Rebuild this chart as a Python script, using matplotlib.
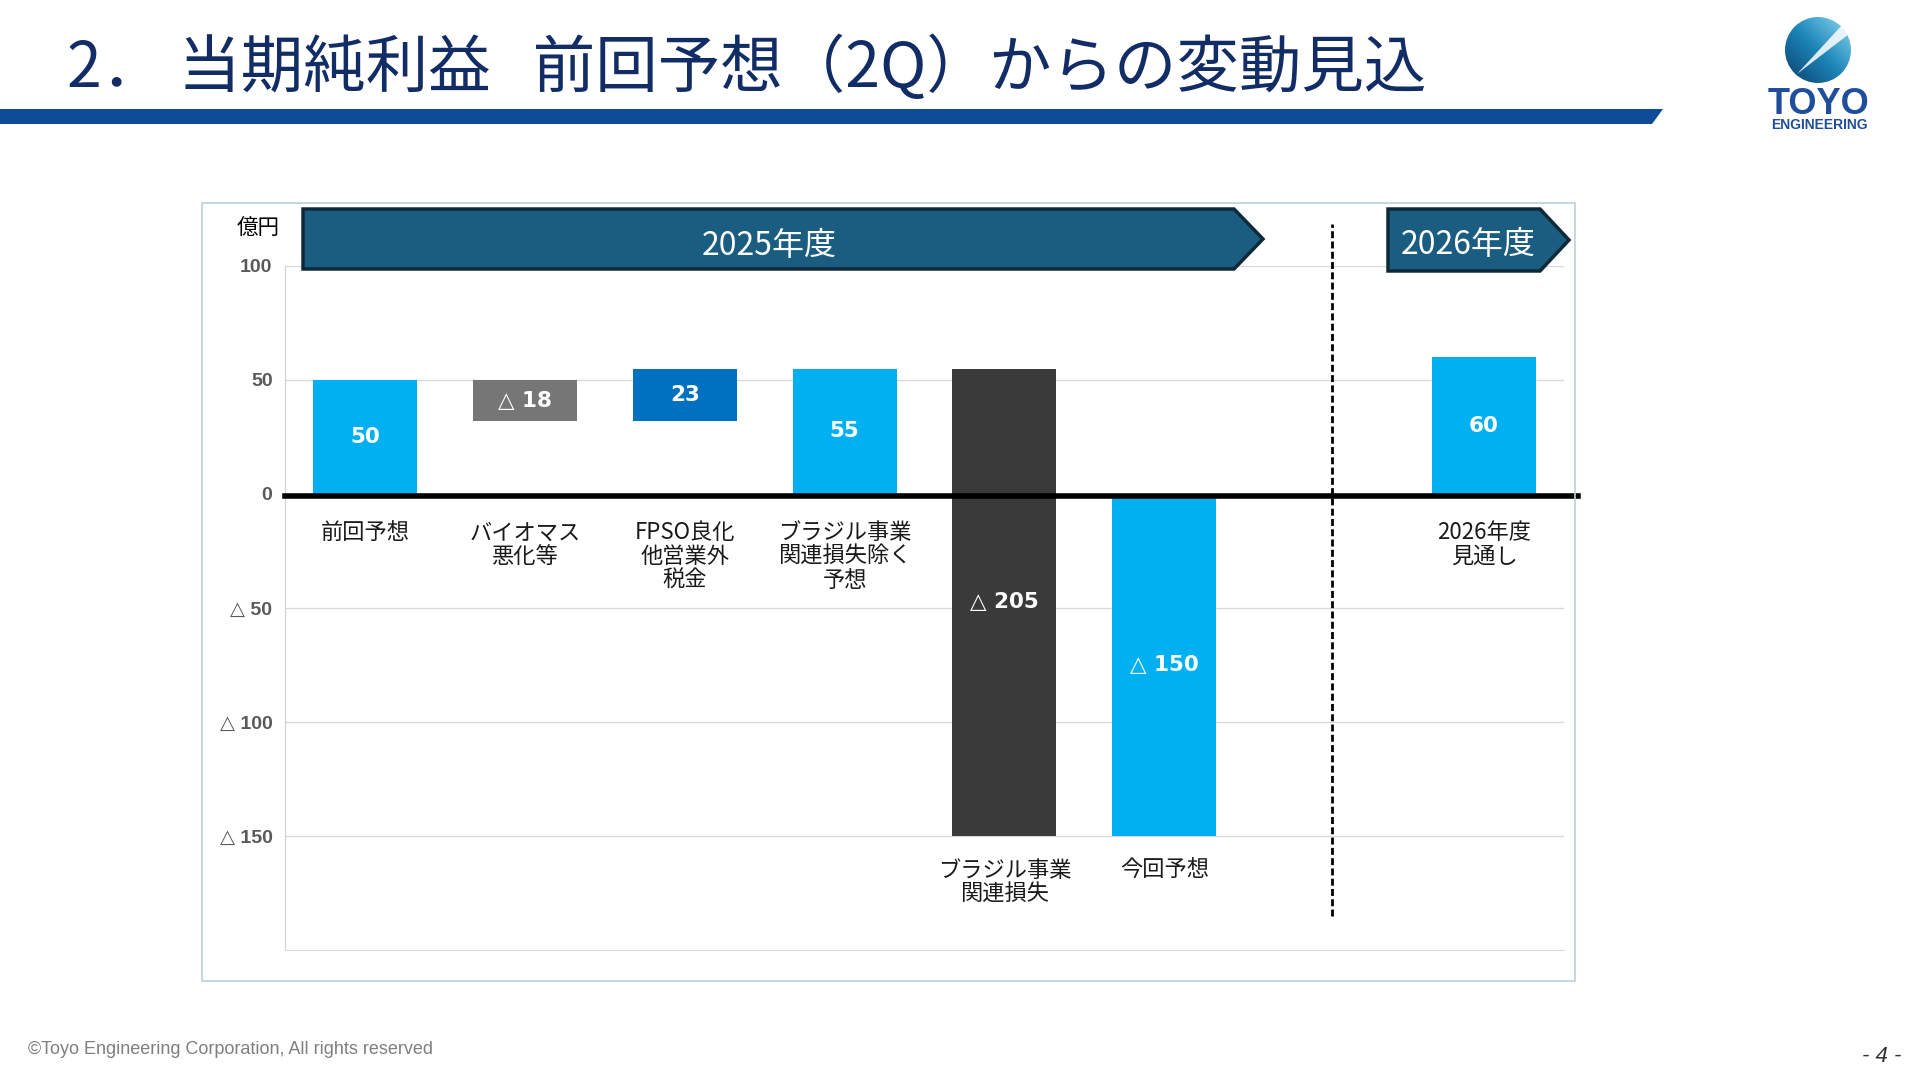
import numpy as np
import matplotlib
matplotlib.use('Agg')
import matplotlib.pyplot as plt
from matplotlib.patches import Polygon, Rectangle, Circle

plt.rcParams['font.family'] = ['Noto Sans CJK JP', 'DejaVu Sans']

# data
categories = ['前回予想', 'バイオマス\n悪化等', 'FPSO良化\n他営業外\n税金', 'ブラジル事業\n関連損失除く\n予想',
              'ブラジル事業\n関連損失', '今回予想', '2026年度\n見通し']
positions = [0, 1, 2, 3, 4, 5, 7]
values = [50, -18, 23, 55, -205, -150, 60]
kinds = ['total', 'delta', 'delta', 'total', 'delta', 'total', 'total']
bar_colors = ['#00B0F0', '#767676', '#0070C0', '#00B0F0', '#3A3A3A', '#00B0F0', '#00B0F0']
y_ticks = [100, 50, 0, -50, -100, -150]
y_tick_labels = ['100', '50', '0', '△ 50', '△ 100', '△ 150']

TITLE = '2． 当期純利益   前回予想（2Q）からの変動見込'
TITLE_COLOR = '#122C66'
TICK_COLOR = '#595959'

# waterfall bottoms
bottoms = []
running = 0
for v, k in zip(values, kinds):
    if k == 'total':
        bottoms.append(0)
        running = v
    else:
        bottoms.append(running)
        running += v

fig = plt.figure(figsize=(19.2, 10.8), dpi=100)
fig.patch.set_facecolor('white')

W, H = 1920, 1080
ax = fig.add_axes([285 / W, (H - 950) / H, 1279 / W, 684 / H])
ax.set_facecolor('none')

ax.bar(positions, values, bottom=bottoms, width=0.65, color=bar_colors, zorder=3)

for x, v, b in zip(positions, values, bottoms):
    label = f'△ {abs(v)}' if v < 0 else str(v)
    ax.text(x, b + v / 2, label, ha='center', va='center', color='white',
            fontsize=15.5, fontweight='bold', family=['DejaVu Sans'], zorder=5)

for x, v, b, cat in zip(positions, values, bottoms, categories):
    low = min(b, b + v)
    y = -12 if low >= 0 else low - 10
    ax.text(x, y, cat, ha='center', va='top', fontsize=16, color='#1A1A1A',
            linespacing=1.05, zorder=5)

ax.set_xlim(-0.5, 7.5)
ax.set_ylim(-200, 100)
ax.set_xticks([])
ax.set_yticks(y_ticks)
ax.set_yticklabels(y_tick_labels, fontsize=14, fontweight='bold', color=TICK_COLOR,
                   family=['Liberation Sans', 'DejaVu Sans'])
ax.tick_params(axis='y', length=0, pad=9)
ax.yaxis.grid(True, color='#D9D9D9', lw=1)
ax.set_axisbelow(True)
for s in ['top', 'right']:
    ax.spines[s].set_visible(False)
ax.spines['left'].set_color('#D0D0D0')
ax.spines['bottom'].set_color('#D9D9D9')

# zero line and fiscal year divider
ax.axhline(-1, xmin=0, xmax=1.011, color='black', lw=4, clip_on=False, zorder=4)
ax.axvline(6.05, ymin=0.05, ymax=1.061, color='black', lw=2, ls=(0, (2.5, 1.2)),
           clip_on=False, zorder=4)

# overlay in pixel coords for slide decorations
ov = fig.add_axes([0, 0, 1, 1], zorder=10)
ov.set_xlim(0, W)
ov.set_ylim(H, 0)
ov.axis('off')
ov.patch.set_alpha(0)

ov.add_patch(Rectangle((202, 203), 1373, 778, fill=False, edgecolor='#BCD0DC', lw=1.2))

ov.text(67, 68, TITLE, fontsize=45, color=TITLE_COLOR, ha='left', va='center')
ov.add_patch(Polygon([(0, 109), (1663, 109), (1652, 124), (0, 124)], closed=True,
                     facecolor='#0F4C97', edgecolor='none'))

# fiscal year banners
banner_fill = '#1A5D80'
banner_edge = '#0E2A3A'
ov.add_patch(Polygon([(303, 209), (1234, 209), (1263, 239), (1234, 269), (303, 269)],
                     closed=True, facecolor=banner_fill, edgecolor=banner_edge, lw=2.5))
ov.text(769, 246, '2025年度', fontsize=23, color='white', ha='center', va='center')
ov.add_patch(Polygon([(1388, 209), (1540, 209), (1569, 240), (1540, 271), (1388, 271)],
                     closed=True, facecolor=banner_fill, edgecolor=banner_edge, lw=2.5))
ov.text(1468, 245, '2026年度', fontsize=23, color='white', ha='center', va='center')

ov.text(258, 229, '億円', fontsize=15.5, color='black', ha='center', va='center')

# logo
cx, cy, r = 1818, 50, 33
gx, gy = np.meshgrid(np.linspace(0, 1, 100), np.linspace(0, 1, 100))
grad = (gx + (1 - gy)) / 2
img = ov.imshow(grad, cmap=matplotlib.colors.LinearSegmentedColormap.from_list(
    'logo', ['#0B3F6E', '#1C86B8', '#8ED8F2']), extent=[cx - r, cx + r, cy + r, cy - r],
    interpolation='bilinear', zorder=2)
circ = Circle((cx, cy), r, transform=ov.transData)
img.set_clip_path(circ)
ov.add_patch(Polygon([(1797, 74), (1843, 24), (1849, 34)], closed=True,
                     facecolor='white', edgecolor='none', alpha=0.85, zorder=3))
ov.set_aspect('auto')
ov.set_xlim(0, W)
ov.set_ylim(H, 0)
ov.text(1819, 104, 'TOYO', fontsize=26, fontweight='bold', color='#1F4E9A',
        ha='center', va='center', family=['Liberation Sans'])
ov.text(1819, 125, 'ENGINEERING', fontsize=10, fontweight='bold', color='#1F4E9A',
        ha='center', va='center', family=['Liberation Sans'])

# footer
ov.text(28, 1049, '©Toyo Engineering Corporation, All rights reserved', fontsize=13,
        color='#7F7F7F', ha='left', va='center', family=['Liberation Sans'])
ov.text(1882, 1056, '- 4 -', fontsize=16, style='italic', color='#333333',
        ha='center', va='center', family=['Liberation Sans'])

fig.savefig('out.png', dpi=100, facecolor='white')
